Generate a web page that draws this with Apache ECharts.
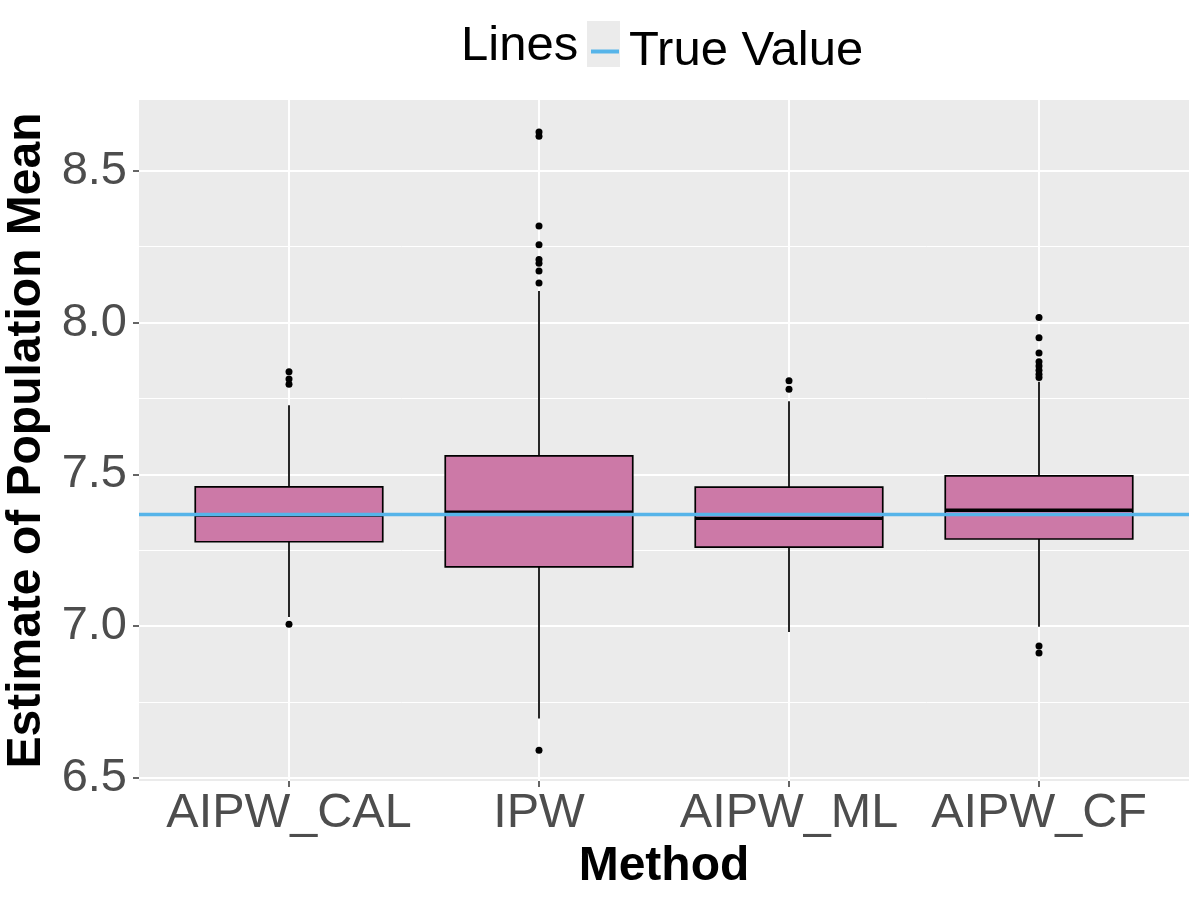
<!DOCTYPE html>
<html>
<head>
<meta charset="utf-8">
<script src="https://cdn.jsdelivr.net/npm/echarts@6/dist/echarts.min.js"></script>
<style>
  html, body { margin: 0; padding: 0; background: #fff; }
  #chart { width: 1200px; height: 900px; }
</style>
</head>
<body>
<div id="chart"></div>
<script>
// box statistics per method
var methods     = ['AIPW_CAL', 'IPW', 'AIPW_ML', 'AIPW_CF'];
var whiskerLow  = [7.030, 6.696, 6.981, 6.998];
var q1          = [7.278, 7.195, 7.260, 7.287];
var median      = [7.366, 7.375, 7.355, 7.382];
var q3          = [7.459, 7.561, 7.458, 7.495];
var whiskerHigh = [7.728, 8.104, 7.741, 7.805];

// outliers per method
var outCAL = [7.838, 7.814, 7.797, 7.006];
var outIPW = [8.628, 8.614, 8.318, 8.256, 8.208, 8.195, 8.170, 8.130, 6.591];
var outML  = [7.808, 7.780];
var outCF  = [8.017, 7.950, 7.900, 7.871, 7.857, 7.843, 7.830, 7.819, 6.935, 6.912];

var trueValue = 7.366;
var yTicks = [6.5, 7.0, 7.5, 8.0, 8.5];
var yMinor = [6.75, 7.25, 7.75, 8.25];

var font = 'Liberation Sans';

function init() {
	var myChart = echarts.init(document.getElementById('chart'));

	var boxData = methods.map(function (m, i) {
		return [i + 1, whiskerLow[i], q1[i], median[i], q3[i], whiskerHigh[i]];
	});
	var outData = [];
	[outCAL, outIPW, outML, outCF].forEach(function (arr, i) {
		arr.forEach(function (v) { outData.push([i + 1, v]); });
	});
	var xPos = methods.map(function (m, i) { return i + 1; });

	var gridLines = [];
	yTicks.forEach(function (v) { gridLines.push({ yAxis: v, lineStyle: { width: 2 } }); });
	yMinor.forEach(function (v) { gridLines.push({ yAxis: v, lineStyle: { width: 1 } }); });
	xPos.forEach(function (v) { gridLines.push({ xAxis: v, lineStyle: { width: 2 } }); });

	var option = {
		animation: false,
		textStyle: { fontFamily: font },
		title: {
			text: 'Lines',
			left: 456,
			top: 17,
			textStyle: { fontFamily: font, fontSize: 49, fontWeight: 'normal', color: '#000' }
		},
		legend: {
			data: ['True Value'],
			left: 586,
			top: 22,
			itemWidth: 28,
			itemHeight: 4,
			icon: 'path://M0,0L28,0L28,4L0,4Z',
			textStyle: { fontFamily: font, fontSize: 49, color: '#000', padding: [0, 0, 0, 5] },
			selectedMode: false
		},
		graphic: [{
			type: 'rect',
			left: 587,
			top: 21,
			z: 0,
			shape: { width: 33, height: 46 },
			style: { fill: '#EBEBEB' }
		}],
		grid: {
			left: 139,
			top: 100,
			right: 11,
			bottom: 119,
			outerBoundsMode: 'none',
			containLabel: false,
			show: true,
			backgroundColor: '#EBEBEB',
			borderWidth: 0
		},
		xAxis: {
			type: 'value',
			min: 0.4,
			max: 4.6,
			name: 'Method',
			nameLocation: 'middle',
			nameGap: 60,
			nameTextStyle: { fontFamily: font, fontSize: 48, fontWeight: 'bold', color: '#000' },
			axisLine: { show: false },
			axisTick: { show: true, customValues: xPos, length: 6, lineStyle: { color: '#333', width: 1.5 } },
			axisLabel: {
				customValues: xPos,
				margin: 8,
				fontFamily: font,
				fontSize: 48.5,
				color: '#4D4D4D',
				formatter: function (v) { return methods[Math.round(v) - 1]; }
			},
			splitLine: { show: false }
		},
		yAxis: {
			type: 'value',
			min: 6.49,
			max: 8.733,
			name: 'Estimate of Population Mean',
			nameLocation: 'middle',
			nameGap: 80,
			nameTextStyle: { fontFamily: font, fontSize: 48, fontWeight: 'bold', color: '#000' },
			axisLine: { show: false },
			axisTick: { show: true, customValues: yTicks, length: 6, lineStyle: { color: '#333', width: 1.5 } },
			axisLabel: {
				customValues: yTicks,
				margin: 12,
				fontFamily: font,
				fontSize: 47,
				color: '#4D4D4D',
				formatter: function (v) { return v.toFixed(1); }
			},
			splitLine: { show: false }
		},
		series: [
			{
				name: 'grid',
				type: 'line',
				data: [],
				z: 1,
				silent: true,
				markLine: {
					silent: true,
					z: 1,
					symbol: ['none', 'none'],
					label: { show: false },
					lineStyle: { color: '#FFFFFF', type: 'solid' },
					data: gridLines
				}
			},
			{
				name: 'box',
				type: 'custom',
				z: 3,
				data: boxData,
				renderItem: function (params, api) {
					var x = api.value(0);
					var lo = api.coord([x, api.value(1)]);
					var b1 = api.coord([x - 0.375, api.value(2)]);
					var md1 = api.coord([x - 0.375, api.value(3)]);
					var md2 = api.coord([x + 0.375, api.value(3)]);
					var b2 = api.coord([x + 0.375, api.value(4)]);
					var hi = api.coord([x, api.value(5)]);
					var stroke = { stroke: '#000', lineWidth: 1.7 };
					return {
						type: 'group',
						children: [
							{ type: 'line', shape: { x1: lo[0], y1: lo[1], x2: lo[0], y2: b1[1] }, style: stroke },
							{ type: 'line', shape: { x1: hi[0], y1: b2[1], x2: hi[0], y2: hi[1] }, style: stroke },
							{ type: 'rect', shape: { x: b1[0], y: b2[1], width: b2[0] - b1[0], height: b1[1] - b2[1] },
								style: { fill: '#CC79A7', stroke: '#000', lineWidth: 1.7 } },
							{ type: 'line', shape: { x1: md1[0], y1: md1[1], x2: md2[0], y2: md2[1] },
								style: { stroke: '#000', lineWidth: 3.4 } }
						]
					};
				}
			},
			{
				name: 'True Value',
				type: 'line',
				data: [],
				z: 4,
				itemStyle: { color: '#56B4E9' },
				lineStyle: { color: '#56B4E9', width: 3.4 },
				markLine: {
					silent: true,
					z: 4,
					symbol: ['none', 'none'],
					label: { show: false },
					lineStyle: { color: '#56B4E9', width: 3.4, type: 'solid' },
					data: [{ yAxis: trueValue }]
				}
			},
			{
				name: 'outliers',
				type: 'scatter',
				z: 5,
				symbol: 'circle',
				symbolSize: 7,
				itemStyle: { color: '#000', opacity: 1 },
				data: outData
			}
		]
	};
	myChart.setOption(option);
}
init();
</script>
</body>
</html>
